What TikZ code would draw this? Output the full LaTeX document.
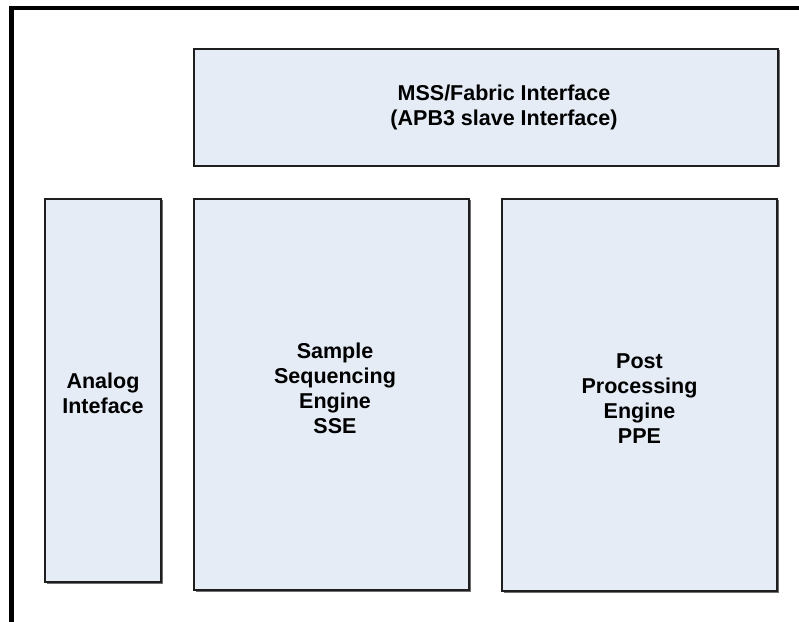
\documentclass[tikz,border=0pt]{standalone}
\usepackage{fontspec}
\setmainfont{Liberation Sans}
\definecolor{boxfill}{RGB}{229,236,246}
\definecolor{boxline}{RGB}{30,30,30}
\definecolor{shadowc}{RGB}{110,110,115}
\begin{document}
\begin{tikzpicture}[x=1bp,y=-1bp,
  blk/.style={draw=boxline,line width=1.1bp,fill=boxfill,rectangle,inner sep=0pt},
  lbl/.style={font=\bfseries\fontsize{21.5bp}{25bp}\selectfont,align=center,inner sep=0pt,text=black}]
\useasboundingbox (0,0) rectangle (799,622);
\fill[white] (0,0) rectangle (799,622);
% outer frame (cropped)
\draw[line width=4.5bp,black,line join=miter] (11.5,622) -- (11.5,8) -- (799,8);
% shadows
\foreach \a/\b/\c/\d in {194/49/778/166, 45/199/161/582, 194/199/469/590, 502/199/777/591}{
  \fill[shadowc] (\a+1.5,\b+1.5) rectangle (\c+1.5,\d+1.5);
}
% boxes
\draw[blk] (194,49) rectangle (778,166) coordinate (mssbr);
\draw[blk] (45,199) rectangle (161,582);
\draw[blk] (194,199) rectangle (469,590);
\draw[blk] (502,199) rectangle (777,591);
% labels
\node[lbl] (mss) at (504,107) {MSS/Fabric Interface\\(APB3 slave Interface)};
\node[lbl] (ana) at (103,393) {Analog\\Inteface};
\node[lbl] (sse) at (335,388.5) {Sample\\Sequencing\\Engine\\SSE};
\node[lbl] (ppe) at (639.5,398.5) {Post\\Processing\\Engine\\PPE};
\end{tikzpicture}
\end{document}
